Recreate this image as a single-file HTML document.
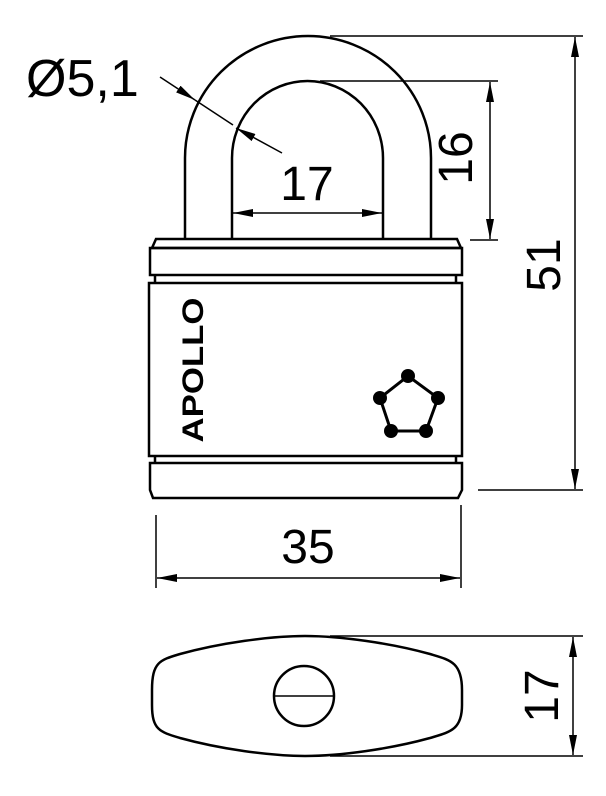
<!DOCTYPE html>
<html><head><style>html,body{margin:0;padding:0;background:#fff}</style></head><body>
<svg width="606" height="791" viewBox="0 0 606 791" xmlns="http://www.w3.org/2000/svg" font-family="Liberation Sans, sans-serif">
<defs>
<marker id="a" viewBox="0 0 20 8" refX="20" refY="4" markerWidth="20" markerHeight="8" markerUnits="userSpaceOnUse" orient="auto-start-reverse"><path d="M0,0 L20,4 L0,8 z" fill="#000"/></marker>
</defs>
<g fill="none" stroke="#000" stroke-width="2.5">
<path d="M185,240 V158 A123,122 0 0 1 431,158 V240"/>
<path d="M232,240 V158 A75.5,77 0 0 1 383,158 V240"/>
<path d="M152,248 L156,239 H457 L461,248 Z"/>
<rect x="150" y="248" width="312" height="27"/>
<path d="M155,275 V283 M456,275 V283"/>
<rect x="149" y="283" width="313" height="173"/>
<path d="M155,456 V463 M456,456 V463"/>
<path d="M150,463 H462 V490 L458,498 H153 L150,490 Z"/>
<polygon points="408,376 438,398 426,431 391,431 380,398" stroke-width="3"/>
<path d="M152,690 C152,662 160,660 180,654 C220,643 270,636 305,636 C340,636 390,643 430,654 C450,660 462,662 462,690 V705 C462,730 450,732 430,738 C390,749 340,756 305,756 C270,756 220,749 180,738 C160,732 152,730 152,705 Z"/>
<circle cx="304" cy="696" r="30"/>
</g>
<g fill="#000">
<circle cx="408" cy="376" r="7"/><circle cx="438" cy="398" r="7"/><circle cx="426" cy="431" r="7"/><circle cx="391" cy="431" r="7"/><circle cx="380" cy="398" r="7"/>
</g>
<g stroke="#000" stroke-width="1.5" fill="none">
<line x1="275" y1="696" x2="334" y2="696"/>
<line x1="330" y1="36" x2="583" y2="36"/>
<line x1="320" y1="81" x2="498" y2="81"/>
<line x1="470" y1="240" x2="498" y2="240"/>
<line x1="478" y1="490" x2="583" y2="490"/>
<line x1="156" y1="515" x2="156" y2="588"/>
<line x1="461" y1="505" x2="461" y2="588"/>
<line x1="330" y1="636" x2="583" y2="636"/>
<line x1="330" y1="756" x2="583" y2="756"/>
<line x1="575" y1="37" x2="575" y2="489" marker-start="url(#a)" marker-end="url(#a)"/>
<line x1="490" y1="82" x2="490" y2="239" marker-start="url(#a)" marker-end="url(#a)"/>
<line x1="233" y1="213" x2="382" y2="213" marker-start="url(#a)" marker-end="url(#a)"/>
<line x1="157" y1="578" x2="460" y2="578" marker-start="url(#a)" marker-end="url(#a)"/>
<line x1="573" y1="637" x2="573" y2="755" marker-start="url(#a)" marker-end="url(#a)"/>
<line x1="160" y1="77" x2="195" y2="100" marker-end="url(#a)"/>
<line x1="195" y1="100" x2="233" y2="125"/>
<line x1="282" y1="153" x2="236" y2="128" marker-end="url(#a)"/>
</g>
<g fill="#000" font-size="48">
<text x="26" y="96" font-size="52">Ø5,1</text>
<text x="307" y="200" text-anchor="middle">17</text>
<text x="308" y="563" text-anchor="middle">35</text>
<text transform="translate(472,158) rotate(-90)" text-anchor="middle">16</text>
<text transform="translate(560,265) rotate(-90)" text-anchor="middle">51</text>
<text transform="translate(558,696) rotate(-90)" text-anchor="middle">17</text>
<text transform="translate(203,370) rotate(-90)" text-anchor="middle" font-size="30" font-weight="bold" textLength="145" lengthAdjust="spacingAndGlyphs">APOLLO</text>
</g>
</svg>
</body></html>
